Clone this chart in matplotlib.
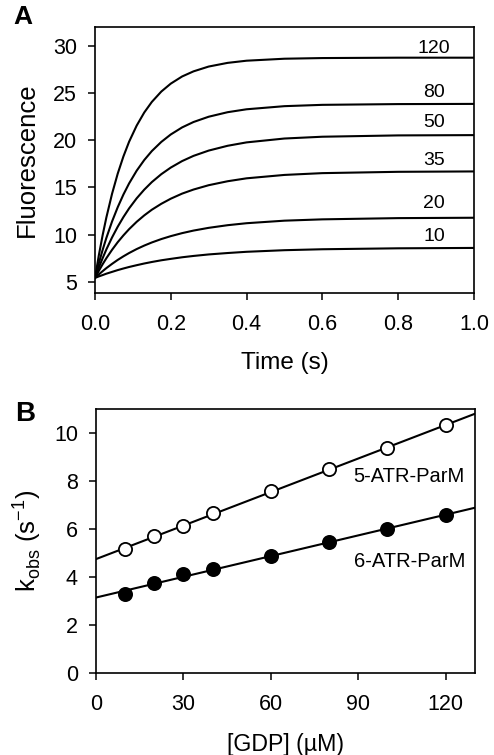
import numpy as np
from matplotlib import pyplot as plt

plt.rcParams['font.family'] = ['Liberation Sans', 'DejaVu Sans']

# panel A: fluorescence traces, one per [GDP] (uM)
time_s = [0, 0.01, 0.02, 0.03, 0.045, 0.06, 0.075, 0.09, 0.11, 0.13, 0.15,
          0.175, 0.2, 0.23, 0.26, 0.3, 0.35, 0.4, 0.5, 0.6, 0.8, 1.0]
trace_labels = ['10', '20', '35', '50', '80', '120']
fl_10 = [5.40, 5.56, 5.70, 5.85, 6.04, 6.23, 6.40, 6.56, 6.75, 6.93, 7.09,
         7.27, 7.42, 7.59, 7.73, 7.89, 8.04, 8.17, 8.34, 8.44, 8.54, 8.58]
fl_20 = [5.40, 5.77, 6.11, 6.44, 6.89, 7.31, 7.69, 8.04, 8.46, 8.83, 9.16,
         9.52, 9.83, 10.15, 10.42, 10.71, 10.99, 11.20, 11.47, 11.61, 11.74, 11.78]
fl_35 = [5.40, 6.14, 6.84, 7.49, 8.38, 9.19, 9.91, 10.57, 11.35, 12.03, 12.63,
         13.26, 13.80, 14.34, 14.77, 15.23, 15.65, 15.96, 16.32, 16.51, 16.65, 16.69]
fl_50 = [5.40, 6.48, 7.48, 8.42, 9.69, 10.83, 11.85, 12.77, 13.84, 14.76, 15.56,
         16.40, 17.10, 17.79, 18.34, 18.90, 19.41, 19.77, 20.18, 20.37, 20.51, 20.54]
fl_80 = [5.40, 6.94, 8.35, 9.64, 11.38, 12.90, 14.24, 15.42, 16.77, 17.90, 18.85,
         19.82, 20.61, 21.36, 21.93, 22.49, 22.97, 23.28, 23.61, 23.75, 23.83, 23.85]
fl_120 = [5.40, 7.77, 9.90, 11.81, 14.32, 16.46, 18.28, 19.84, 21.55, 22.94, 24.06,
          25.16, 26.00, 26.76, 27.30, 27.81, 28.20, 28.43, 28.64, 28.71, 28.75, 28.75]
traces = [fl_10, fl_20, fl_35, fl_50, fl_80, fl_120]
label_y = [9.8, 13.3, 17.85, 21.9, 25.1, 29.7]

# panel B: observed rate constants vs [GDP]
gdp = [10, 20, 30, 40, 60, 80, 100, 120]
k_5atr = [5.15, 5.71, 6.12, 6.65, 7.58, 8.49, 9.36, 10.33]
k_6atr = [3.29, 3.74, 4.12, 4.33, 4.89, 5.45, 5.99, 6.58]

fig = plt.figure(figsize=(4.94, 7.55), dpi=100)
axA = fig.add_axes([0.1923, 0.6119, 0.767, 0.3523])
axB = fig.add_axes([0.1943, 0.1086, 0.767, 0.3497])

for ax in (axA, axB):
    for s in ax.spines.values():
        s.set_linewidth(1.2)
    ax.tick_params(direction='out', length=5, width=1.1, labelsize=15.5,
                   top=False, right=False)
    ax.tick_params(axis='x', pad=10)
    ax.tick_params(axis='y', pad=8)

for ys, lab, ly in zip(traces, trace_labels, label_y):
    axA.plot(time_s, ys, color='black', lw=1.5)
    axA.text(0.895, ly, lab, ha='center', va='center', fontsize=14)

axA.set_xlim(0, 1.0)
axA.set_ylim(3.8, 32)
axA.set_xticks(np.arange(0, 1.01, 0.2))
axA.set_xticklabels(['0.0', '0.2', '0.4', '0.6', '0.8', '1.0'])
axA.set_yticks([5, 10, 15, 20, 25, 30])
axA.set_xlabel('Time (s)', fontsize=17.5, labelpad=12)
axA.set_ylabel('Fluorescence', fontsize=18.5, labelpad=10)

xfit = np.array([0, 130])
for ks, face in ((k_5atr, 'white'), (k_6atr, 'black')):
    slope, icpt = np.polyfit(gdp, ks, 1)
    axB.plot(xfit, slope * xfit + icpt, color='black', lw=1.5, zorder=2)
    axB.plot(gdp, ks, 'o', ms=9.5, mfc=face, mec='black', mew=1.3,
             clip_on=False, zorder=3)

axB.text(107.5, 8.18, '5-ATR-ParM', ha='center', va='center', fontsize=14.5)
axB.text(107.5, 4.64, '6-ATR-ParM', ha='center', va='center', fontsize=14.5)
axB.set_xlim(0, 130)
axB.set_ylim(0, 11)
axB.set_xticks([0, 30, 60, 90, 120])
axB.set_yticks([0, 2, 4, 6, 8, 10])
axB.set_xlabel('[GDP] (\u00b5M)', fontsize=16.7, labelpad=13)
axB.set_ylabel('k$_{\\mathregular{obs}}$ (s$^{\\mathregular{-1}}$)', fontsize=18.5, labelpad=8)

fig.text(0.028, 0.977, 'A', fontsize=19, fontweight='bold', va='center')
fig.text(0.030, 0.452, 'B', fontsize=20, fontweight='bold', va='center')

fig.savefig('out.png', dpi=100)
